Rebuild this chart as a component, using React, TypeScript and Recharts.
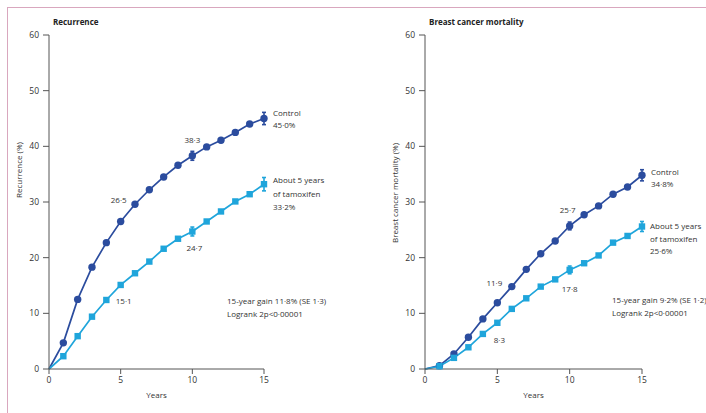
import React from 'react';
import { LineChart, Line, XAxis, YAxis, ErrorBar, LabelList } from 'recharts';

// ---------- data ----------
const years = [0, 1, 2, 3, 4, 5, 6, 7, 8, 9, 10, 11, 12, 13, 14, 15];

const recurrenceControl = [0, 4.7, 12.5, 18.3, 22.7, 26.5, 29.6, 32.2, 34.5, 36.6, 38.3, 39.9, 41.1, 42.5, 44.0, 45.0];
const recurrenceTamoxifen = [0, 2.3, 5.9, 9.4, 12.4, 15.1, 17.2, 19.3, 21.6, 23.4, 24.7, 26.5, 28.3, 30.1, 31.4, 33.2];
const recurrenceControlErr = [0, 0, 0, 0, 0, 0, 0, 0, 0, 0, 0.8, 0, 0, 0, 0, 1.1];
const recurrenceTamoxifenErr = [0, 0, 0, 0, 0, 0, 0, 0, 0, 0, 0.8, 0, 0, 0, 0, 1.2];

const mortalityControl = [0, 0.6, 2.7, 5.7, 9.0, 11.9, 14.8, 17.9, 20.7, 23.0, 25.7, 27.7, 29.3, 31.4, 32.7, 34.8];
const mortalityTamoxifen = [0, 0.5, 2.0, 3.9, 6.3, 8.3, 10.8, 12.7, 14.8, 16.1, 17.8, 19.0, 20.4, 22.7, 23.9, 25.6];
const mortalityControlErr = [0, 0, 0, 0, 0, 0, 0, 0, 0, 0, 0.7, 0, 0, 0, 0, 1.0];
const mortalityTamoxifenErr = [0, 0, 0, 0, 0, 0, 0, 0, 0, 0, 0.7, 0, 0, 0, 0, 0.9];

const xTicks = [0, 5, 10, 15];
const yTicks = [0, 10, 20, 30, 40, 50, 60];

const controlName = 'Control';
const tamoxifenName = ['About 5 years', 'of tamoxifen'];

// ---------- styles ----------
const CONTROL = '#2b4c9e';
const TAMOX = '#1fa5db';
const TEXT = '#333';
const AXIS = '#555';
const FONT = "'Open Sans', sans-serif";

const fmt = (v: number) => v.toFixed(1).replace('.', '\u00b7');

const buildRows = (c: number[], t: number[], ce: number[], te: number[]) =>
  years.map((yr, i) => ({ year: yr, control: c[i], tamox: t[i], cErr: ce[i], tErr: te[i] }));

type Spec = { index: number; dx: number; dy: number };

const pointLabeler = (specs: Spec[]) => (props: any) => {
  const { index, value } = props;
  const s = specs.find((q) => q.index === index);
  if (!s) return null;
  const x = props.x ?? props.viewBox?.x;
  const y = props.y ?? props.viewBox?.y;
  return (
    <text key={`pl-${index}`} x={x + s.dx} y={y + s.dy} textAnchor="middle" fontSize={8} fontFamily={FONT} fill={TEXT}>
      {fmt(Number(value))}
    </text>
  );
};

const endLabeler = (lines: string[], lastIndex: number, dx: number, dy: number, gap: number) => (props: any) => {
  const { index, value } = props;
  if (index !== lastIndex) return null;
  const x = props.x ?? props.viewBox?.x;
  const y = props.y ?? props.viewBox?.y;
  const all = [...lines, `${fmt(Number(value))}%`];
  return (
    <text key={`el-${index}`} x={x + dx} y={y + dy} fontSize={8} fontFamily={FONT} fill={TEXT}>
      {all.map((l, k) => (
        <tspan key={k} x={x + dx} dy={k === 0 ? 0 : gap}>
          {l}
        </tspan>
      ))}
    </text>
  );
};

const circleDot = (color: string) => (p: any) => {
  if (p.index === 0) return <g key={`c-${p.index}`} />;
  return <circle key={`c-${p.index}`} cx={p.cx} cy={p.cy} r={3.7} fill={color} stroke="none" />;
};
const squareDot = (color: string) => (p: any) => {
  if (p.index === 0) return <g key={`s-${p.index}`} />;
  return <rect key={`s-${p.index}`} x={p.cx - 3.2} y={p.cy - 3.2} width={6.4} height={6.4} fill={color} stroke="none" />;
};

const YTitle = ({ text, cx, cy }: { text: string; cx: number; cy: number }) => (
  <text x={cx} y={cy} transform={`rotate(-90 ${cx} ${cy})`} textAnchor="middle" dominantBaseline="central" fontSize={8} fontFamily={FONT} fill={TEXT}>
    {text}
  </text>
);

const XTitle = (props: any) => {
  const vb = props.viewBox || {};
  return (
    <text x={vb.x + vb.width / 2} y={398} textAnchor="middle" fontSize={8} fontFamily={FONT} fill={TEXT}>
      Years
    </text>
  );
};

type PanelProps = {
  left: number;
  width: number;
  marginRight: number;
  title: string;
  yTitle: string;
  yTitleCy: number;
  rows: any[];
  controlSpecs: Spec[];
  tamoxSpecs: Spec[];
  controlEnd: [number, number, number];
  tamoxEnd: [number, number, number];
};

const Panel = (p: PanelProps) => (
  <div style={{ position: 'absolute', left: p.left, top: 0 }}>
    <div style={{ position: 'absolute', left: 53, top: 16, fontFamily: FONT, fontWeight: 700, fontSize: 8, color: '#222', whiteSpace: 'nowrap' }}>
      {p.title}
    </div>
    <LineChart width={p.width} height={413} data={p.rows} margin={{ top: 35, right: p.marginRight, bottom: 14, left: 19 }}>
      <XAxis
        dataKey="year"
        type="number"
        domain={[0, 15]}
        ticks={xTicks}
        interval={0}
        height={30}
        tickSize={5}
        tickMargin={3}
        stroke={AXIS}
        tick={{ fontSize: 8.5, fill: TEXT, fontFamily: FONT }}
        label={<XTitle />}
      />
      <YAxis
        type="number"
        domain={[0, 60]}
        ticks={yTicks}
        interval={0}
        width={30}
        tickSize={6}
        tickMargin={4}
        stroke={AXIS}
        tick={{ fontSize: 8.5, fill: TEXT, fontFamily: FONT }}
        label={<YTitle text={p.yTitle} cx={18} cy={p.yTitleCy} />}
      />
      <Line dataKey="control" stroke={CONTROL} strokeWidth={1.7} dot={circleDot(CONTROL)} activeDot={false} isAnimationActive={false}>
        <ErrorBar dataKey="cErr" width={2} stroke={CONTROL} strokeWidth={1.6} direction="y" />
        <LabelList dataKey="control" content={pointLabeler(p.controlSpecs)} />
        <LabelList dataKey="control" content={endLabeler([controlName], 15, ...p.controlEnd)} />
      </Line>
      <Line dataKey="tamox" stroke={TAMOX} strokeWidth={1.7} dot={squareDot(TAMOX)} activeDot={false} isAnimationActive={false}>
        <ErrorBar dataKey="tErr" width={2} stroke={TAMOX} strokeWidth={1.6} direction="y" />
        <LabelList dataKey="tamox" content={pointLabeler(p.tamoxSpecs)} />
        <LabelList dataKey="tamox" content={endLabeler(tamoxifenName, 15, ...p.tamoxEnd)} />
      </Line>
    </LineChart>
  </div>
);

const Gain = ({ x, y, lines }: { x: number; y: number; lines: string[] }) => (
  <div style={{ position: 'absolute', left: x, top: y, fontFamily: FONT, fontSize: 8, lineHeight: '12.5px', color: TEXT, whiteSpace: 'nowrap' }}>
    {lines.map((l, i) => (
      <div key={i}>{l}</div>
    ))}
  </div>
);

export default function App() {
  const recRows = buildRows(recurrenceControl, recurrenceTamoxifen, recurrenceControlErr, recurrenceTamoxifenErr);
  const morRows = buildRows(mortalityControl, mortalityTamoxifen, mortalityControlErr, mortalityTamoxifenErr);
  return (
    <div style={{ position: 'absolute', left: 0, top: 0, width: 706, height: 413, overflow: 'hidden', background: '#fff' }}>
      <div style={{ position: 'absolute', left: 7, top: 7, right: -10, bottom: -10, borderTop: '1.5px solid #d9a7be', borderLeft: '1.5px solid #d9a7be' }} />
      <Panel
        left={0}
        width={353}
        marginRight={89}
        title="Recurrence"
        yTitle="Recurrence (%)"
        yTitleCy={170}
        rows={recRows}
        controlSpecs={[
          { index: 5, dx: -2, dy: -18 },
          { index: 10, dx: 0, dy: -13 },
        ]}
        tamoxSpecs={[
          { index: 5, dx: 3, dy: 19 },
          { index: 10, dx: 2, dy: 19 },
        ]}
        controlEnd={[9, -3, 12.5]}
        tamoxEnd={[9, -1, 13.5]}
      />
      <Gain x={227} y={295} lines={['15-year gain 11\u00b78% (SE 1\u00b73)', 'Logrank 2p<0\u00b700001']} />
      <Panel
        left={376}
        width={330}
        marginRight={64}
        title="Breast cancer mortality"
        yTitle="Breast cancer mortality (%)"
        yTitleCy={193}
        rows={morRows}
        controlSpecs={[
          { index: 5, dx: -3, dy: -17 },
          { index: 10, dx: -2, dy: -13 },
        ]}
        tamoxSpecs={[
          { index: 5, dx: 2, dy: 20 },
          { index: 10, dx: 0, dy: 22 },
        ]}
        controlEnd={[9, 0, 12]}
        tamoxEnd={[8, 3, 12.5]}
      />
      <Gain x={612} y={294} lines={['15-year gain 9\u00b72% (SE 1\u00b72)', 'Logrank 2p<0\u00b700001']} />
    </div>
  );
}
